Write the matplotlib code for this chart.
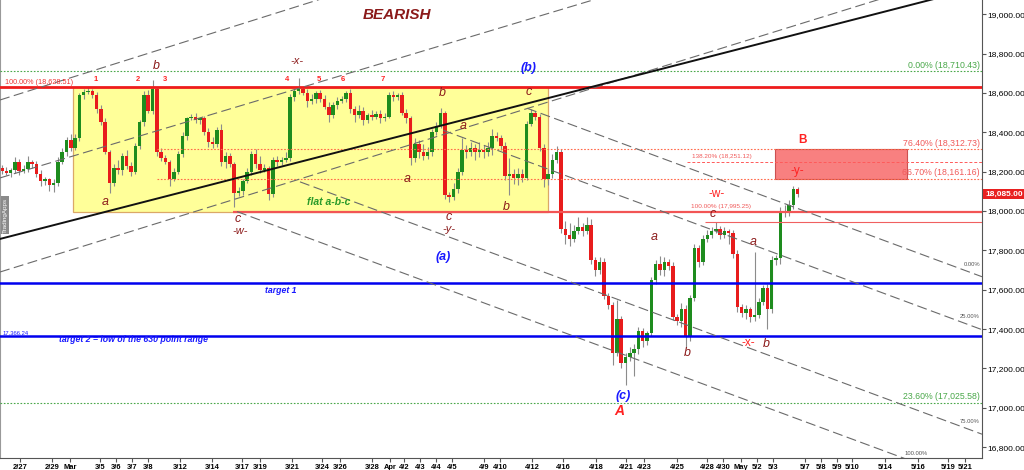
import matplotlib
matplotlib.use('Agg')
import matplotlib.pyplot as plt
from matplotlib.patches import Rectangle
import matplotlib.transforms as mtransforms

plt.rcParams['font.family'] = ['Liberation Sans', 'DejaVu Sans']

# ---- price data (4h candles) ----
first_open = 18220
closes = [
    18205, 18195, 18210, 18250, 18205, 18215, 18250, 18240, 18190, 18150,
    18160, 18130, 18140, 18250, 18300, 18360, 18320, 18370, 18590, 18605,
    18610, 18590, 18520, 18450, 18300, 18140, 18220, 18210, 18280, 18230,
    18200, 18330, 18450, 18590, 18510, 18620, 18300, 18270, 18250, 18165,
    18200, 18290, 18380, 18470, 18480, 18460, 18470, 18400, 18350, 18340,
    18410, 18250, 18280, 18240, 18090, 18100, 18150, 18200, 18290, 18240,
    18210, 18220, 18085, 18260, 18250, 18260, 18270, 18580, 18610, 18620,
    18600, 18560, 18570, 18600, 18570, 18530, 18490, 18540, 18560, 18570,
    18600, 18520, 18490, 18510, 18460, 18490, 18480, 18495, 18470, 18480,
    18590, 18580, 18590, 18500, 18470, 18270, 18340, 18300, 18280, 18300,
    18400, 18430, 18500, 18080, 18070, 18110, 18200, 18310, 18300, 18320,
    18300, 18310, 18300, 18320, 18380, 18370, 18330, 18180, 18190, 18170,
    18190, 18170, 18440, 18500, 18480, 18320, 18160, 18190, 18260, 18300,
    17910, 17880, 17860, 17900, 17920, 17900, 17930, 17750, 17700, 17740,
    17570, 17520, 17280, 17450, 17230, 17260, 17280, 17300, 17390, 17340,
    17380, 17650, 17730, 17700, 17740, 17720, 17460, 17440, 17500, 17360,
    17560, 17810, 17740, 17860, 17880, 17900, 17910, 17880, 17900, 17890,
    17780, 17510, 17480, 17500, 17460, 17470, 17540, 17610, 17500, 17750,
    17760, 18000, 17990, 18030, 18110, 18085,
]
upper_wick = [
    15, 20, 10, 25, 15, 20, 30, 10, 15, 20,
    15, 10, 20, 25, 20, 15, 30, 20, 10, 15,
    20, 10, 15, 20, 25, 10, 20, 40, 15, 30,
    20, 15, 10, 20, 25, 45, 10, 20, 15, 10,
    20, 15, 20, 10, 15, 20, 10, 15, 20, 25,
    15, 30, 20, 15, 10, 20, 15, 20, 15, 25,
    40, 20, 10, 15, 20, 15, 30, 15, 10, 55,
    15, 20, 25, 10, 15, 20, 25, 15, 20, 15,
    10, 20, 15, 30, 20, 10, 25, 15, 20, 20,
    15, 20, 10, 15, 20, 15, 30, 20, 40, 25,
    15, 20, 25, 10, 15, 30, 20, 60, 25, 30,
    20, 40, 25, 30, 35, 20, 15, 20, 80, 25,
    30, 25, 15, 20, 10, 15, 20, 25, 30, 30,
    15, 40, 60, 30, 50, 20, 40, 30, 15, 25,
    20, 15, 20, 100, 15, 20, 30, 25, 20, 15,
    10, 15, 20, 40, 25, 15, 20, 15, 30, 20,
    15, 20, 15, 20, 25, 20, 35, 15, 20, 10,
    15, 20, 15, 20, 10, 320, 20, 15, 20, 20,
    15, 20, 30, 25, 15, 10,
]
lower_wick = [
    15, 10, 20, 15, 20, 10, 15, 20, 15, 25,
    20, 30, 35, 15, 10, 20, 15, 10, 15, 20,
    10, 15, 20, 15, 10, 50, 15, 20, 25, 15,
    20, 10, 15, 20, 10, 15, 20, 15, 10, 40,
    15, 10, 15, 20, 10, 15, 20, 15, 25, 20,
    15, 20, 30, 15, 70, 15, 20, 10, 15, 20,
    15, 10, 30, 15, 20, 15, 10, 15, 20, 15,
    10, 30, 15, 20, 15, 10, 40, 15, 20, 10,
    15, 20, 40, 15, 25, 15, 20, 15, 25, 15,
    10, 20, 15, 10, 25, 35, 20, 30, 20, 15,
    20, 15, 10, 20, 25, 15, 20, 15, 30, 20,
    40, 25, 30, 20, 35, 15, 20, 25, 100, 35,
    40, 25, 15, 10, 20, 15, 40, 30, 20, 15,
    20, 50, 40, 20, 15, 25, 15, 20, 30, 20,
    15, 20, 60, 15, 30, 114, 20, 120, 25, 30,
    20, 15, 20, 25, 30, 20, 15, 20, 30, 55,
    20, 15, 25, 15, 20, 15, 10, 20, 15, 60,
    20, 25, 20, 30, 25, 20, 15, 20, 100, 20,
    25, 30, 20, 15, 20, 15,
]
last_price = 18085.00

# date axis (labels and the candle slot they sit on)
date_labels = ['2/27', '2/29', 'Mar', '3/5', '3/6', '3/7', '3/8', '3/12', '3/14',
               '3/17', '3/19', '3/21', '3/24', '3/26', '3/28', 'Apr', '4/2', '4/3',
               '4/4', '4/5', '4/9', '4/10', '4/12', '4/16', '4/18', '4/21', '4/23',
               '4/25', '4/28', '4/30', 'May', '5/2', '5/3', '5/7', '5/8', '5/9',
               '5/10', '5/14', '5/16', '5/19', '5/21']
date_slot = [4.2, 11.6, 15.8, 22.8, 26.5, 30.2, 34.0, 41.4, 48.8,
             55.8, 60.0, 67.4, 74.4, 78.6, 86.0, 90.2, 93.5, 97.2,
             100.9, 104.7, 112.1, 115.8, 123.3, 130.5, 138.1, 145.1, 149.3,
             157.0, 164.0, 167.7, 171.9, 175.6, 179.3, 186.7, 190.5, 194.2,
             197.7, 205.3, 213.0, 220.0, 224.0]

# levels
range_high = 18628.51
fib_0 = 18710.43
fib_236 = 17025.58
fib_764 = 18312.73
fib_667 = 18161.16
ext_1382 = 18251.12
fib_100 = 17995.25
c_high = 17946.0
target1 = 17634.0
target2 = 17366.24

# drawn trend lines: (slot0, price0, slot1, price1)
trend_solid = [(-0.47, 17858, 227.9, 19140)]
trend_up = [(-0.47, 18564, 227.9, 20134),
            (-0.47, 18168, 227.9, 19665),
            (-0.47, 17690, 227.9, 19237)]
fork_down = [(122.1, 18522, 227.9, 17666),
             (102.6, 18410, 227.9, 17397),
             (69.3, 18148, 227.9, 16866),
             (54.65, 17997, 227.9, 16597)]

X_LEFT, X_RIGHT = -0.465, 227.9
Y_LOW, Y_HIGH = 16745, 19072


def at(xp, yp):
    # pixel position on the 1024x470 canvas -> (slot, price)
    return (xp - 2.0) / 4.3, 18000 + (211 - yp) * 5.081


def main():
    fig = plt.figure(figsize=(10.24, 4.70), dpi=100)
    ax = fig.add_axes([0, 12 / 470, 982 / 1024, 458 / 470])
    ax.set_xlim(X_LEFT, X_RIGHT)
    ax.set_ylim(Y_LOW, Y_HIGH)

    # flat range box
    ax.add_patch(Rectangle((16.5, fib_100), 127 - 16.5, range_high - fib_100,
                           facecolor='#ffff99', edgecolor='#dba868', lw=0.9, zorder=1))
    # B target box
    ax.add_patch(Rectangle((179.8, fib_667), 210.5 - 179.8, fib_764 - fib_667,
                           facecolor='#f88080', edgecolor='#cc5050', lw=0.8, zorder=1.5))

    # candles
    opens = [first_open] + closes[:-1]
    for i, (o, c) in enumerate(zip(opens, closes)):
        hi = max(o, c) + upper_wick[i]
        lo = min(o, c) - lower_wick[i]
        ax.vlines(i, lo, hi, color='#8c8c8c', lw=0.8, zorder=2)
        col = '#1e8c1e' if c >= o else '#e81c1c'
        ax.bar(i, max(abs(c - o), 4), bottom=min(o, c), width=0.8,
               color=col, lw=0, zorder=2.5)

    # levels
    ax.axhline(range_high, color='#ee1c1c', lw=2, zorder=3)
    ax.axhline(fib_0, color='#4aa84a', lw=0.8, ls=(0, (1.5, 1.5)), zorder=3)
    ax.axhline(fib_236, color='#4aa84a', lw=0.8, ls=(0, (1.5, 1.5)), zorder=3)
    ax.hlines([fib_764, fib_667], 36, X_RIGHT, color='#ff6a4a', lw=0.8,
              ls=(0, (1.5, 1.5)), zorder=3)
    ax.hlines(ext_1382, 159.3, X_RIGHT, color='#ff5a5a', lw=0.7,
              ls=(0, (3, 2)), zorder=3)
    ax.hlines(fib_100, 53.7, X_RIGHT, color='#f25555', lw=1.6, zorder=3)
    ax.hlines(c_high, 163.5, X_RIGHT, color='#f06060', lw=0.8, zorder=3)
    ax.axhline(target1, color='#0000ee', lw=1.8, zorder=3)
    ax.axhline(target2, color='#0000ee', lw=1.8, zorder=3)

    for x0, y0, x1, y1 in trend_up + fork_down:
        ax.plot([x0, x1], [y0, y1], color='#6a6a6a', lw=0.8,
                ls=(0, (9, 4)), zorder=3)
    for x0, y0, x1, y1 in trend_solid:
        ax.plot([x0, x1], [y0, y1], color='#111111', lw=1.4, zorder=3.2)

    # labels
    def t(xp, yp, s, color, size, style='italic', weight='normal', ha='center'):
        x, y = at(xp, yp)
        ax.text(x, y, s, color=color, fontsize=size, fontstyle=style,
                fontweight=weight, ha=ha, va='center', zorder=5)

    dark = '#8b1a1a'
    red = '#ff2222'
    blue = '#1a1aff'
    t(397, 15, 'BEARISH', dark, 11, weight='bold')
    t(5, 83, '100.00% (18,628.51)', '#ee3333', 5.2, style='normal', ha='left')
    for xp, s in [(96, '1'), (138, '2'), (165, '3'), (287, '4'),
                  (319, '5'), (343, '6'), (383, '7')]:
        t(xp, 80, s, red, 5.5, style='normal', weight='bold')
    for xp, yp, s in [(156, 66, 'b'), (105, 202, 'a'), (238, 219, 'c'),
                      (442, 93, 'b'), (463, 126, 'a'), (407, 179, 'a'),
                      (529, 92, 'c'), (506, 207, 'b'), (449, 217, 'c'),
                      (654, 237, 'a'), (713, 214, 'c'), (753, 242, 'a'),
                      (687, 353, 'b'), (766, 344, 'b')]:
        t(xp, yp, s, dark, 9)
    t(240, 231, '-w-', dark, 8)
    t(297, 61, '-x-', dark, 8)
    t(449, 229, '-y-', dark, 8)
    t(329, 202, 'flat a-b-c', '#2a9a2a', 7.5, weight='bold')
    t(528, 68, '(b)', blue, 9, weight='bold')
    t(443, 257, '(a)', blue, 9, weight='bold')
    t(623, 396, '(c)', blue, 9, weight='bold')
    t(619, 411, 'A', red, 10, weight='bold')
    t(802, 140, 'B', red, 8.5, style='normal', weight='bold')
    t(797, 171, '-y-', red, 8.5, style='normal')
    t(717, 194, '-w-', red, 8.5, style='normal')
    t(748, 343, '-x-', red, 8.5, style='normal')
    t(265, 291, 'target 1', blue, 6.3, weight='bold', ha='left')
    t(59, 340, 'target 2 = low of the 630 point range', blue, 6.3,
      weight='bold', ha='left')
    t(3, 333, '17,366.24', blue, 4.2, style='normal', ha='left')

    # fib labels
    t(980, 66, '0.00% (18,710.43)', '#4aa84a', 6.3, style='normal', ha='right')
    t(980, 397, '23.60% (17,025.58)', '#4aa84a', 6.3, style='normal', ha='right')
    t(980, 144, '76.40% (18,312.73)', '#f05a5a', 6.3, style='normal', ha='right')
    t(980, 173, '66.70% (18,161.16)', '#f05a5a', 6.3, style='normal', ha='right')
    t(692, 157, '138.20% (18,251.12)', '#f05a5a', 4.6, style='normal', ha='left')
    t(691, 207, '100.00% (17,995.25)', '#f05a5a', 4.6, style='normal', ha='left')
    for xp, yp, s in [(980, 265, '0.00%'), (980, 317, '25.00%'),
                      (980, 422, '75.00%'), (928, 453, '100.00%')]:
        t(xp, yp, s, '#555555', 4.2, style='normal', ha='right')

    # axes styling
    ax.yaxis.tick_right()
    ax.set_yticks(range(16800, 19001, 200))
    ax.set_yticklabels(['{:,.2f}'.format(v) for v in range(16800, 19001, 200)])
    ax.tick_params(axis='y', labelsize=6, length=3, pad=1, color='#555555')
    ax.set_xticks(date_slot)
    ax.set_xticklabels(date_labels)
    ax.tick_params(axis='x', labelsize=5.4, length=3, pad=1, color='#555555')
    for lab in ax.get_xticklabels():
        lab.set_fontweight('bold')
    ax.spines['top'].set_visible(False)
    ax.spines['left'].set_color('#999999')
    ax.spines['right'].set_color('#555555')
    ax.spines['bottom'].set_color('#555555')

    # last price tag
    trans = mtransforms.blended_transform_factory(ax.transAxes, ax.transData)
    ax.text(1.003, last_price, '{:,.2f}'.format(last_price), transform=trans,
            fontsize=6, color='white', fontweight='bold', ha='left', va='center',
            bbox=dict(boxstyle='square,pad=0.2', fc='#e82020', ec='none'),
            clip_on=False, zorder=6)

    fig.text(5 / 1024, (470 - 215) / 470, 'TradingApps', rotation=90, fontsize=4.5,
             color='white', ha='center', va='center',
             bbox=dict(boxstyle='square,pad=0.3', fc='#8a8a8a', ec='none'))

    fig.savefig('out.png', dpi=100)
    plt.close(fig)


if __name__ == '__main__':
    main()
